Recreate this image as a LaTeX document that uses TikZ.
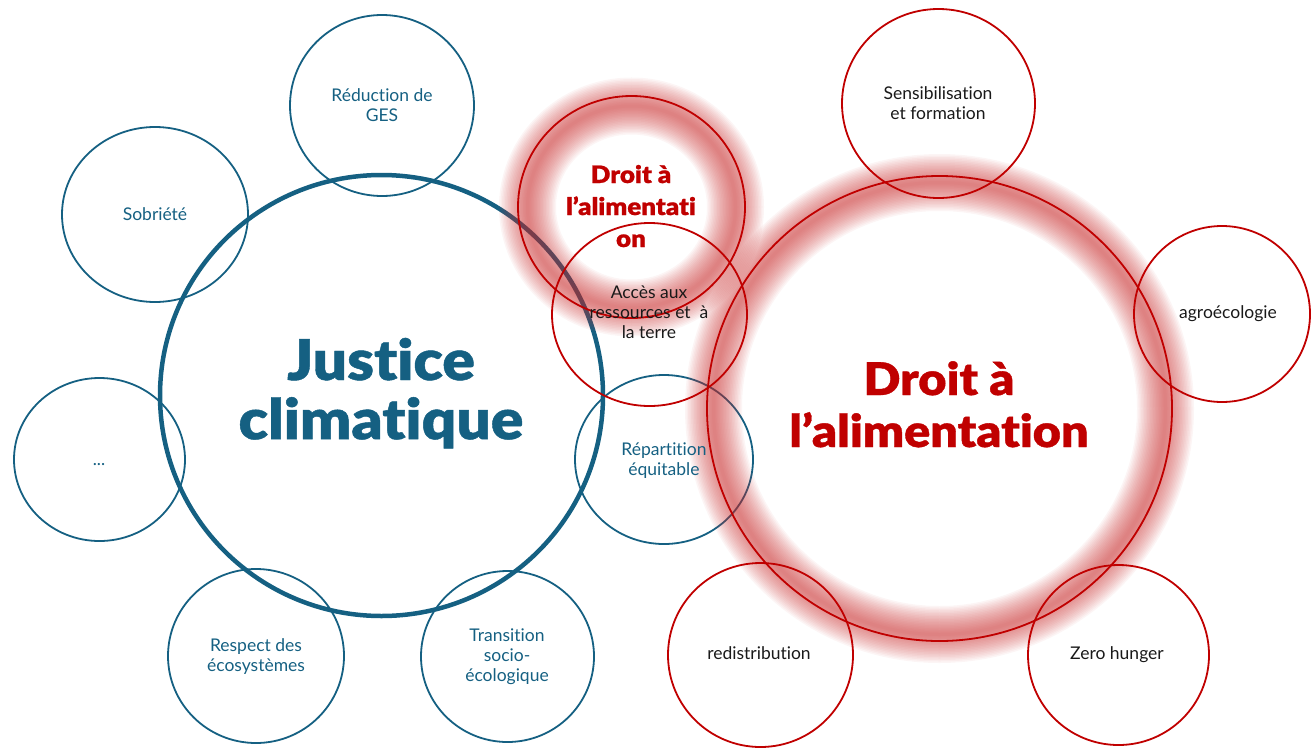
\documentclass[tikz,border=0pt]{standalone}
\usepackage{fontspec}
\setmainfont{Lato}[Ligatures=NoCommon]
\newfontfamily\heavyfont{Lato Black}[FakeStretch=1.08, FakeBold=0.8, Ligatures=NoCommon]
\usetikzlibrary{shapes.geometric}
\definecolor{cblue}{HTML}{156082}
\definecolor{cred}{HTML}{C00000}
\definecolor{cglow}{RGB}{200,45,45}
\newcommand\ml[1]{\begin{tabular}[t]{@{}c@{}}#1\end{tabular}}
\tikzset{
  bub/.style={ellipse, draw, line width=1.8pt, inner sep=0pt},
  bluebub/.style={bub, draw=cblue},
  redbub/.style={bub, draw=cred},
  lbl/.style={anchor=base, inner sep=0pt, font=\fontsize{17.5}{20}\selectfont},
  bluelbl/.style={lbl, text=cblue},
  blacklbl/.style={lbl, text=black!90},
  glowlayer/.style={draw=cglow, draw opacity=0.046},
}
\newcommand\glowring[4]{%
  \foreach \k in {1,...,19}{%
    \draw[glowlayer, line width=3*\k pt] (#1,#2) ellipse [x radius=#3, y radius=#4];
  }%
}
\begin{document}
\begin{tikzpicture}[x=1pt,y=-1pt]
\useasboundingbox (0,0) rectangle (1311,747);

% blue circles
\node[bluebub, minimum width=184pt, minimum height=181pt] (reduc) at (382,105.5) {};
\node[bluebub, minimum width=186pt, minimum height=175pt] (sobr) at (155,214.5) {};
\node[bluebub, minimum width=171pt, minimum height=163pt] (dots) at (99.5,459.5) {};
\node[bluebub, minimum width=176pt, minimum height=174pt] (resp) at (256,656) {};
\node[bluebub, minimum width=173pt, minimum height=171pt] (trans) at (507.5,656.5) {};
\node[bluebub, minimum width=178pt, minimum height=169pt] (repart) at (664,459.5) {};
\node[bluebub, line width=4.5pt, minimum width=443pt, minimum height=441pt] (justice) at (381.5,395.5) {};

% glows
\glowring{631.5}{207}{104}{101}
\glowring{939.5}{408.5}{226}{226}

% red circles
\node[redbub, minimum width=195pt, minimum height=183pt] (acces) at (649.5,314.5) {};
\node[redbub, minimum width=227pt, minimum height=222pt] (droitS) at (631.5,207) {};
\node[redbub, minimum width=465pt, minimum height=465pt] (droitB) at (939.5,408.5) {};
\node[redbub, minimum width=193pt, minimum height=189pt] (sensib) at (938.5,103.5) {};
\node[redbub, minimum width=176pt, minimum height=176pt] (agro) at (1222,314) {};
\node[redbub, minimum width=185pt, minimum height=184pt] (redis) at (760.5,655) {};
\node[redbub, minimum width=181pt, minimum height=180pt] (zero) at (1118.5,655) {};

% blue labels
\node[bluelbl] (t-reduc) at (382,101) {\ml{Réduction de\\GES}};
\node[bluelbl] (t-sobr) at (155,220) {Sobriété};
\node[bluelbl] (t-dots) at (99,465) {...};
\node[bluelbl] (t-resp) at (256,651) {\ml{Respect des\\écosystèmes}};
\node[bluelbl] (t-trans) at (507,641) {\ml{Transition\\socio-\\écologique}};
\node[bluelbl] (t-repart) at (664,455) {\ml{Répartition\\équitable}};
\node[anchor=base, inner sep=0pt, text=cblue, font=\heavyfont\fontsize{56}{57}\selectfont] (t-justice) at (381,380) {\ml{Justice\\climatique}};

% red / black labels
\node[anchor=base, inner sep=0pt, text=cred, font=\heavyfont\fontsize{24}{32}\selectfont] (t-droitS) at (631,183) {\ml{Droit à\\l’alimentati\\on}};
\node[blacklbl] (t-acces) at (649,298) {\ml{Accès aux\\ressources et\ \ à\\la terre}};
\node[anchor=base, inner sep=0pt, text=cred, font=\heavyfont\fontsize{45}{52}\selectfont] (t-droitB) at (939,395) {\ml{Droit à\\l’alimentation}};
\node[blacklbl] (t-sensib) at (938,99) {\ml{Sensibilisation\\et formation}};
\node[blacklbl] (t-agro) at (1228,318) {agroécologie};
\node[blacklbl] (t-redis) at (759,659) {redistribution};
\node[blacklbl] (t-zero) at (1117,659) {Zero hunger};
\end{tikzpicture}
\end{document}
